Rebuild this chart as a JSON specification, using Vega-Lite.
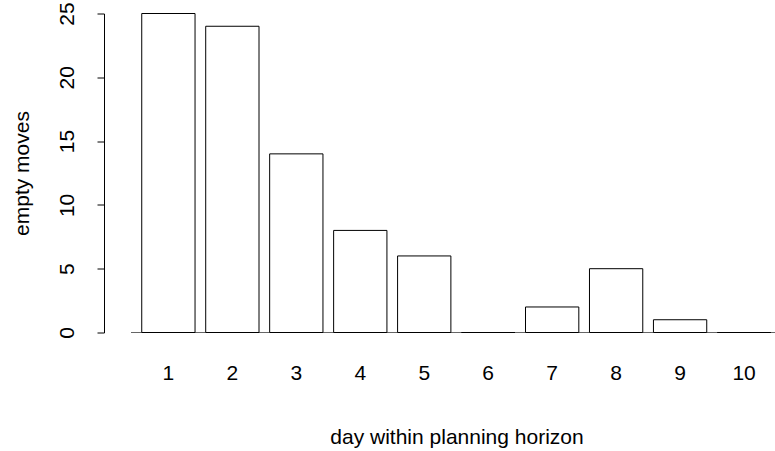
{
  "$schema": "https://vega.github.io/schema/vega-lite/v6.json",
  "autosize": {"type": "none"},
  "width": 658,
  "height": 319,
  "padding": {"left": 117, "top": 13.5, "right": 0, "bottom": 118.5},
  "background": "white",
  "config": {
    "view": {"stroke": null},
    "font": "Liberation Sans",
    "axis": {
      "labelFont": "Liberation Sans",
      "titleFont": "Liberation Sans",
      "labelColor": "black",
      "titleColor": "black",
      "labelFontSize": 21,
      "titleFontSize": 21,
      "titleFontWeight": "normal",
      "grid": false
    }
  },
  "data": {
    "values": [
      {"day": "1", "moves": 25},
      {"day": "2", "moves": 24},
      {"day": "3", "moves": 14},
      {"day": "4", "moves": 8},
      {"day": "5", "moves": 6},
      {"day": "6", "moves": 0},
      {"day": "7", "moves": 2},
      {"day": "8", "moves": 5},
      {"day": "9", "moves": 1},
      {"day": "10", "moves": 0}
    ]
  },
  "layer": [
    {
      "mark": {"type": "rule", "color": "#666666", "strokeWidth": 1},
      "encoding": {
        "x": {"datum": 0, "type": "quantitative", "scale": {"domain": [-0.272, 12.08], "nice": false, "zero": false}, "axis": null},
        "x2": {"datum": 12.08},
        "y": {"datum": 0, "type": "quantitative"}
      }
    },
    {
      "mark": {"type": "bar", "fill": "white", "stroke": "black", "strokeWidth": 1},
      "encoding": {
        "x": {
          "field": "day",
          "type": "ordinal",
          "sort": null,
          "scale": {"paddingInner": 0.1667, "paddingOuter": 0.227, "align": 0.852},
          "axis": {
            "title": "day within planning horizon",
            "labelAngle": 0,
            "domain": false,
            "ticks": false,
            "labelPadding": 30,
            "titleBaseline": "alphabetic",
            "titleAnchor": "middle",
            "titleX": 339.5,
            "titleY": 110.5
          }
        },
        "y": {
          "field": "moves",
          "type": "quantitative",
          "scale": {"domain": [0, 25], "nice": false},
          "axis": {
            "title": "empty moves",
            "values": [0, 5, 10, 15, 20, 25],
            "offset": 13,
            "tickSize": 7,
            "tickColor": "black",
            "domainColor": "black",
            "labelAngle": -90,
            "labelAlign": "center",
            "labelBaseline": "alphabetic",
            "labelPadding": 23.7,
            "titleAngle": -90,
            "titleBaseline": "alphabetic",
            "titleAnchor": "middle",
            "titleX": -75.5,
            "titleY": 159.5
          }
        }
      }
    }
  ],
  "resolve": {"scale": {"x": "independent"}}
}
